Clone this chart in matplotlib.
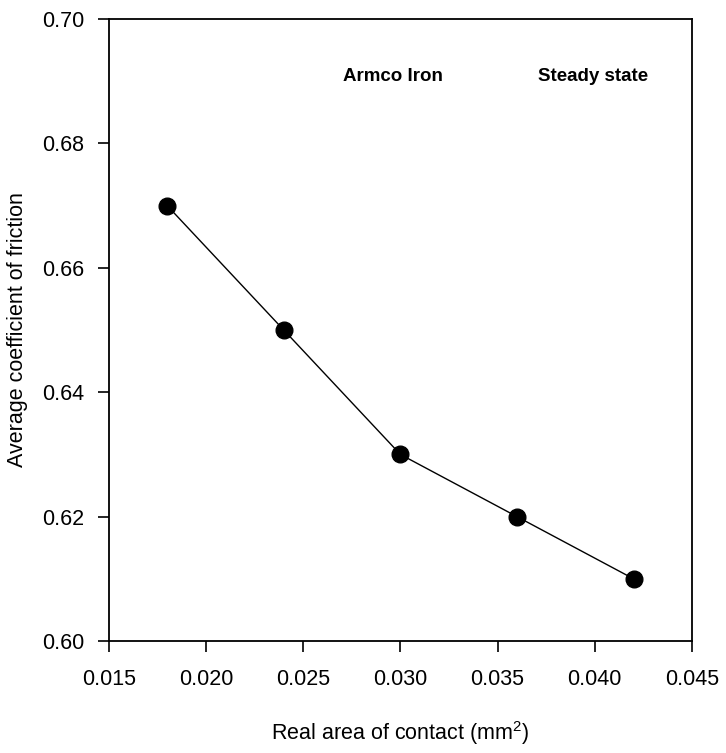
import matplotlib
matplotlib.use("Agg")
import matplotlib.pyplot as plt

plt.rcParams['font.family'] = ['Liberation Sans', 'DejaVu Sans']
plt.rcParams['mathtext.fontset'] = 'custom'
plt.rcParams['mathtext.rm'] = 'Liberation Sans'

area = [0.018, 0.024, 0.030, 0.036, 0.042]
friction = [0.670, 0.650, 0.630, 0.620, 0.610]
xticks = [0.015, 0.020, 0.025, 0.030, 0.035, 0.040, 0.045]
yticks = [0.60, 0.62, 0.64, 0.66, 0.68, 0.70]

fig = plt.figure(figsize=(7.26, 7.53), dpi=100)
ax = fig.add_axes([0.150, 0.1487, 0.803, 0.826])
ax.plot(area, friction, color='black', linewidth=1.0, marker='o',
        markersize=12, markerfacecolor='black', markeredgecolor='black')
ax.set_xlim(0.015, 0.045)
ax.set_ylim(0.60, 0.70)
ax.set_xticks(xticks)
ax.set_xticklabels([f"{v:.3f}" for v in xticks])
ax.set_yticks(yticks)
ax.set_yticklabels([f"{v:.2f}" for v in yticks])
ax.tick_params(direction='out', length=8, width=1.2, labelsize=15.5)
ax.tick_params(axis='x', pad=12)
ax.tick_params(axis='y', pad=10)
for s in ax.spines.values():
    s.set_linewidth(1.3)
ax.set_xlabel(r"Real area of contact (mm$^{\mathrm{2}}$)", fontsize=15.5, labelpad=21)
ax.set_ylabel("Average coefficient of friction", fontsize=15.5, labelpad=10)
ax.text(0.0296, 0.6908, "Armco Iron", fontsize=13.5, fontweight='bold', ha='center', va='center')
ax.text(0.0399, 0.6908, "Steady state", fontsize=13.5, fontweight='bold', ha='center', va='center')
fig.savefig("out.png", dpi=100)
